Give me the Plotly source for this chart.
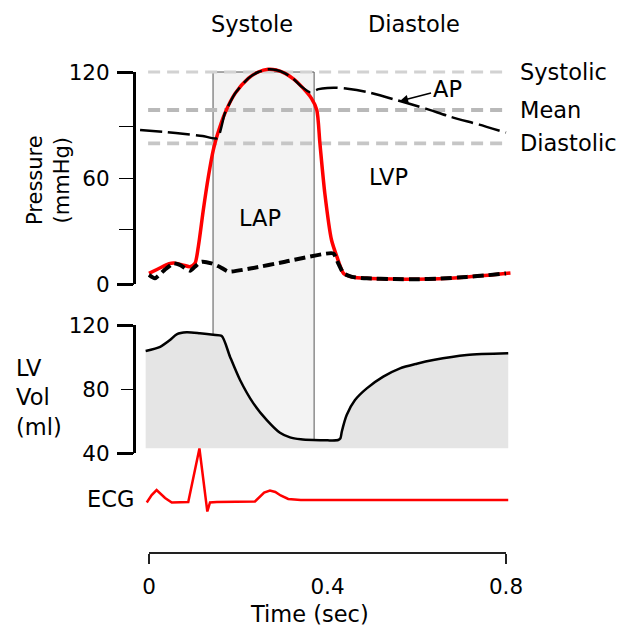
import plotly.graph_objects as go

# ------------------------------------------------------------------
# DATA
# ------------------------------------------------------------------
# Left ventricular pressure (mmHg)
lvp_t = [0.000, 0.020, 0.045, 0.056, 0.075, 0.092, 0.103, 0.1105, 0.1217, 0.133, 0.144,
         0.153, 0.170, 0.193, 0.2225, 0.245, 0.267, 0.285, 0.305, 0.325, 0.342, 0.364,
         0.376, 0.383, 0.394, 0.409, 0.421, 0.436, 0.455, 0.488, 0.550, 0.600, 0.650,
         0.712, 0.760, 0.810]
lvp_p = [6.0, 8.5, 11.5, 11.9, 10.8, 9.8, 11.7, 21.1, 41.9, 60.7, 75.8,
         84.3, 96.6, 107.9, 116.4, 120.0, 121.5, 121.1, 119.2, 115.8, 111.7, 105.1,
         98.5, 79.6, 51.3, 24.9, 15.5, 6.0, 4.0, 3.2, 2.8, 2.7, 3.0,
         4.0, 5.0, 6.2]

# Left atrial pressure (mmHg)
lap_t = [0.000, 0.013, 0.035, 0.055, 0.069, 0.092, 0.103, 0.118, 0.140, 0.160, 0.178,
         0.230, 0.305, 0.413, 0.424, 0.436, 0.455, 0.488, 0.550, 0.600, 0.650, 0.712,
         0.760, 0.800]
lap_p = [5.1, 3.2, 8.0, 11.7, 10.8, 7.5, 9.8, 12.6, 11.7, 9.5, 7.0,
         8.9, 12.6, 17.3, 11.7, 6.0, 4.0, 3.2, 2.8, 2.7, 3.0, 4.0,
         5.0, 6.0]

# Aortic pressure (mmHg)
ap_t = [-0.020, 0.040, 0.0807, 0.120, 0.153, 0.170, 0.193, 0.2225, 0.245, 0.267, 0.285,
        0.305, 0.325, 0.342, 0.361, 0.380, 0.400, 0.420, 0.445, 0.488, 0.555, 0.620,
        0.675, 0.740, 0.800]
ap_p = [87.2, 86.0, 84.9, 83.8, 82.5, 96.6, 107.9, 116.4, 120.0, 121.5, 121.1,
        119.2, 115.8, 111.7, 108.5, 110.3, 111.0, 111.1, 110.5, 108.7, 104.1, 99.3,
        94.7, 90.2, 85.7]

# Left ventricular volume (ml)
vol_t = [-0.0075, 0.025, 0.047, 0.062, 0.0845, 0.114, 0.144, 0.163, 0.1815, 0.204,
         0.234, 0.264, 0.2935, 0.316, 0.340, 0.368, 0.400, 0.424, 0.429, 0.432,
         0.443, 0.4616, 0.488, 0.525, 0.5625, 0.600, 0.637, 0.712, 0.805]
vol_v = [103.75, 106.4, 110.6, 114.2, 115.4, 114.8, 113.9, 113.1, 100.2, 85.6,
         71.0, 60.6, 52.7, 49.8, 48.6, 48.1, 47.9, 48.1, 49.2, 53.3,
         63.75, 73.1, 80.4, 87.7, 92.9, 95.8, 98.1, 101.25, 102.3]
vol_floor = 43.0

# ECG (mV, arbitrary baseline 0)
ecg_t = [-0.005, 0.006, 0.017, 0.026, 0.036, 0.051, 0.088, 0.113, 0.1307, 0.1367,
         0.152, 0.2375, 0.248, 0.258, 0.271, 0.283, 0.295, 0.312, 0.340, 0.500, 0.805]
ecg_mv = [-0.05, 0.10, 0.20, 0.13, 0.04, -0.05, -0.04, 1.03, -0.23, -0.05,
          -0.04, -0.03, 0.07, 0.15, 0.19, 0.16, 0.09, 0.02, 0.0, 0.0, 0.0]

# Reference pressure levels
ref_names = ["Systolic", "Mean", "Diastolic"]
ref_values = [120.0, 98.5, 79.6]
ref_span = [-0.002, 0.802]

# Ejection period (shaded box) and end-systolic volume
systole_period = [0.1435, 0.370]
end_systolic_volume = 48.1

# Tick labels
pressure_ticks = [0, 60, 120]
pressure_minor = [31, 89]
volume_ticks = [40, 80, 120]
time_ticks = [0, 0.4, 0.8]
time_ticktext = ["0", "0.4", "0.8"]

# ------------------------------------------------------------------
# LAYOUT GEOMETRY (pixel placement of the scales)
# ------------------------------------------------------------------
W, H = 623, 627
X0_PX, X_PER = 149.0, 446.25          # t = 0 at 149 px, px per second
P0_PX, P_PER = 284.0, 212.0 / 120.0   # 0 mmHg at 284 px
V40_PX, V_PER = 453.0, 1.6            # 40 ml at 453 px
E0_PX, E_PER = 500.0, 50.0            # ECG baseline
AXIS_X_PX = 134.0
TIME_AXIS_Y_PX = 552.5
FONT = "DejaVu Sans"
LABEL_SIZE = 22.5
TICK_SIZE = 21.5


def px_x(px):
    return px / W


def px_y(py):
    return 1 - py / H


def p_paper(p):
    return px_y(P0_PX - p * P_PER)


def v_paper(v):
    return px_y(V40_PX - (v - 40) * V_PER)


x_range = [(0 - X0_PX) / X_PER, (W - X0_PX) / X_PER]
p_range = [(P0_PX - H) / P_PER, P0_PX / P_PER]
v_range = [40 - (H - V40_PX) / V_PER, 40 + V40_PX / V_PER]
e_range = [-(H - E0_PX) / E_PER, E0_PX / E_PER]

fig = go.Figure()

# reference dashed levels
ref_colors = ["#d2d2d2", "#b9b9b9", "#c6c6c6"]
ref_widths = [3.2, 3.8, 3.6]
for name, val, col, wd in zip(ref_names, ref_values, ref_colors, ref_widths):
    fig.add_trace(go.Scatter(x=ref_span, y=[val, val], mode="lines",
                             line=dict(color=col, width=wd, dash="12px,7px"),
                             yaxis="y", xaxis="x", hoverinfo="skip"))

# volume fill + curve
fig.add_trace(go.Scatter(x=[vol_t[0], vol_t[-1]], y=[vol_floor, vol_floor], mode="lines",
                         line=dict(width=0, color="rgba(0,0,0,0)"), yaxis="y2",
                         hoverinfo="skip"))
fig.add_trace(go.Scatter(x=vol_t, y=vol_v, mode="lines", fill="tonexty",
                         fillcolor="#e5e5e5",
                         line=dict(color="black", width=2.5, shape="spline", smoothing=0.7),
                         yaxis="y2", hoverinfo="skip"))

# ECG
fig.add_trace(go.Scatter(x=ecg_t, y=ecg_mv, mode="lines",
                         line=dict(color="#ff0000", width=2.5),
                         yaxis="y3", hoverinfo="skip"))

# LVP
fig.add_trace(go.Scatter(x=lvp_t, y=lvp_p, mode="lines",
                         line=dict(color="#ff0000", width=3.5, shape="spline", smoothing=0.7),
                         yaxis="y", hoverinfo="skip"))
# LAP
fig.add_trace(go.Scatter(x=lap_t, y=lap_p, mode="lines",
                         line=dict(color="black", width=4, dash="11px,5px",
                                   shape="spline", smoothing=0.5),
                         yaxis="y", hoverinfo="skip"))
# AP
fig.add_trace(go.Scatter(x=ap_t, y=ap_p, mode="lines",
                         line=dict(color="black", width=2.5, dash="22px,6px",
                                   shape="spline", smoothing=0.6),
                         yaxis="y", hoverinfo="skip"))

# dummy traces so display axes are drawn
for xa, ya in [("x", "y4"), ("x", "y5"), ("x", "y6"), ("x", "y7"), ("x2", "y"), ("x3", "y")]:
    fig.add_trace(go.Scatter(x=[None], y=[None], xaxis=xa, yaxis=ya, mode="lines",
                             hoverinfo="skip"))

# shaded ejection box
fig.add_shape(type="rect", xref="x", yref="paper",
              x0=systole_period[0], x1=systole_period[1],
              y0=v_paper(end_systolic_volume), y1=p_paper(ref_values[0]),
              fillcolor="#f3f3f3", line=dict(color="#555555", width=1), layer="below")

hidden = dict(visible=False, showgrid=False, zeroline=False, fixedrange=True,
              automargin=False)
tickfont = dict(family=FONT, size=TICK_SIZE, color="black")
common = dict(showgrid=False, zeroline=False, fixedrange=True, automargin=False)

p_dom = [p_paper(0), p_paper(120)]
v_dom = [v_paper(40), v_paper(120)]
t_dom = [px_x(X0_PX), px_x(X0_PX + 0.8 * X_PER)]

fig.update_layout(
    template="none",
    width=W, height=H, margin=dict(l=0, r=0, t=0, b=0, pad=0, autoexpand=False),
    paper_bgcolor="white", plot_bgcolor="rgba(0,0,0,0)",
    showlegend=False, hovermode=False,
    font=dict(family=FONT, size=LABEL_SIZE, color="black"),
    xaxis=dict(domain=[0, 1], range=x_range, **hidden),
    yaxis=dict(domain=[0, 1], range=p_range, **hidden),
    yaxis2=dict(overlaying="y", range=v_range, **hidden),
    yaxis3=dict(overlaying="y", range=e_range, **hidden),
    # pressure labels + thin ticks
    yaxis4=dict(domain=p_dom, range=[0, 120], anchor="free", position=px_x(AXIS_X_PX),
                side="left", showline=False, **common,
                tickmode="array", tickvals=pressure_ticks, ticks="outside", ticklen=15,
                tickwidth=1.3, tickcolor="black", tickfont=tickfont, ticklabelstandoff=5,
                minor=dict(tickmode="array", tickvals=pressure_minor, ticks="outside",
                           ticklen=15, tickwidth=1.3, tickcolor="black", showgrid=False)),
    # pressure bracket
    yaxis5=dict(domain=p_dom, range=[0, 120], anchor="free", position=px_x(AXIS_X_PX),
                side="left", showline=True, linecolor="black", linewidth=2.6, **common,
                tickmode="array", tickvals=[0, 120],
                ticks="outside", ticklen=16, tickwidth=3, tickcolor="black",
                showticklabels=False),
    # volume labels + thin ticks
    yaxis6=dict(domain=v_dom, range=[40, 120], anchor="free", position=px_x(AXIS_X_PX),
                side="left", showline=False, **common,
                tickmode="array", tickvals=volume_ticks, ticks="outside", ticklen=13,
                tickwidth=1.3, tickcolor="black", tickfont=tickfont, ticklabelstandoff=7),
    # volume bracket
    yaxis7=dict(domain=v_dom, range=[40, 120], anchor="free", position=px_x(AXIS_X_PX),
                side="left", showline=True, linecolor="black", linewidth=2.6, **common,
                tickmode="array", tickvals=[40, 120],
                ticks="outside", ticklen=16, tickwidth=3, tickcolor="black",
                showticklabels=False),
    # time labels
    xaxis2=dict(domain=t_dom, range=[0, 0.8], anchor="free", position=px_y(TIME_AXIS_Y_PX),
                side="bottom", showline=False, **common,
                tickmode="array", tickvals=time_ticks, ticktext=time_ticktext,
                ticks="outside", ticklen=10, tickcolor="rgba(0,0,0,0)",
                tickfont=tickfont, ticklabelstandoff=5),
    # time bracket
    xaxis3=dict(domain=t_dom, range=[0, 0.8], anchor="free", position=px_y(TIME_AXIS_Y_PX),
                side="bottom", showline=True, linecolor="#222222", linewidth=2, **common,
                tickmode="array", tickvals=[0, 0.8],
                ticks="outside", ticklen=10, tickwidth=2, tickcolor="#222222",
                showticklabels=False),
)

ann = []


def label(text, x, y, xanchor="center", size=LABEL_SIZE, xref="paper", yref="paper", **kw):
    ann.append(dict(text=text, x=x, y=y, xref=xref, yref=yref, xanchor=xanchor,
                    yanchor="middle", showarrow=False,
                    font=dict(family=FONT, size=size, color="black"), **kw))


label("Systole", px_x(252), px_y(24))
label("Diastole", px_x(414), px_y(24))
for name, val in zip(ref_names, ref_values):
    label(name, px_x(518), val, xanchor="left", yref="y")
label("LVP", px_x(388), px_y(177))
label("LAP", px_x(260), px_y(218))
label("ECG", px_x(136), px_y(499), xanchor="right")
label("LV<br>Vol<br>(ml)", px_x(14), px_y(398), xanchor="left", align="left")
label("Time (sec)", px_x(309), px_y(614))
label("Pressure<br>(mmHg)", px_x(49), px_y(180), size=21, textangle=-90)

# AP label with arrow pointing at the aortic pressure curve
ann.append(dict(text="AP", x=0.5625, y=103.6, xref="x", yref="y", ax=47, ay=-12,
                showarrow=True, arrowhead=2, arrowsize=1, arrowwidth=1.6,
                arrowcolor="black", font=dict(family=FONT, size=LABEL_SIZE, color="black")))

fig.update_layout(annotations=ann)
fig.write_html("out.html")
